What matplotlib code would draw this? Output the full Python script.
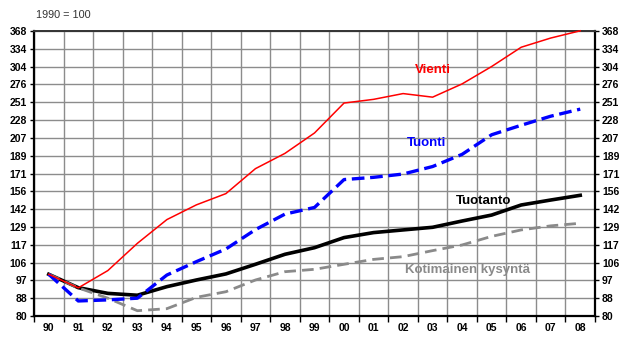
import numpy as np
import matplotlib.pyplot as plt

plt.rcParams['font.family'] = ['Liberation Sans', 'DejaVu Sans']

# Index series, 1990 = 100
years = ['90', '91', '92', '93', '94', '95', '96', '97', '98', '99',
         '00', '01', '02', '03', '04', '05', '06', '07', '08']
vienti = [100, 93, 102, 118, 134, 145, 154, 176, 191, 213,
          250, 255, 263, 258, 277, 304, 337, 354, 368]
tuonti = [100, 86.7, 87.2, 88, 99.6, 107, 114.5, 127, 138, 143,
          166, 168, 171, 178, 190, 211, 222, 233, 242]
tuotanto = [100, 93.1, 90.3, 89.4, 93.6, 97, 100.2, 105.5, 111.3, 115.3,
            121.7, 125, 126.8, 128.6, 133, 137.3, 144.9, 148.8, 152.6]
kysynta = [100, 93, 88, 82.3, 83.2, 88.4, 91.1, 97, 101.4, 102.7,
           105.5, 108.3, 109.9, 113.5, 117, 122.5, 126.8, 129.6, 131.4]

# y gridlines step by 10 % from 80
y_labels = ['80', '88', '97', '106', '117', '129', '142', '156', '171',
            '189', '207', '228', '251', '276', '304', '334', '368']
y_ticks = 80 * 1.1 ** np.arange(len(y_labels))

fig = plt.figure(figsize=(6.24, 3.47), dpi=100)
ax = fig.add_axes([34 / 624, 31 / 347, 561 / 624, 285 / 347])

x = np.arange(len(years))
ax.plot(x, tuotanto, color='black', lw=2.6, solid_joinstyle='round', zorder=3)
ax.plot(x, kysynta, color='#8a8a8a', lw=2.0, dashes=(4.2, 2.2), zorder=3)
ax.plot(x, tuonti, color='#0000ff', lw=2.4, dashes=(3.8, 1.7), zorder=4)
ax.plot(x, vienti, color='#ff0000', lw=1.1, zorder=5, clip_on=False)

ax.set_yscale('log')
ax.set_ylim(y_ticks[0], y_ticks[-1])
ax.set_xlim(-0.5, len(years) - 0.5)

ax.set_yticks(y_ticks)
ax.set_yticklabels(y_labels)
ax.yaxis.set_minor_locator(plt.NullLocator())
ax.set_xticks(x)
ax.set_xticklabels(years)
ax.set_xticks(np.arange(len(years) + 1) - 0.5, minor=True)

ax.grid(True, which='major', axis='y', color='#8c8c8c', lw=1.0)
ax.grid(True, which='minor', axis='x', color='#8c8c8c', lw=1.0)
ax.set_axisbelow(True)

ax.tick_params(axis='y', which='major', left=True, right=True,
               labelleft=True, labelright=True, length=3, width=1,
               pad=2, labelsize=7.5, direction='out')
ax.tick_params(axis='x', which='major', length=0, pad=5, labelsize=7.5)
ax.tick_params(axis='x', which='minor', length=4, width=1, direction='out')
for lab in ax.get_xticklabels() + ax.get_yticklabels():
    lab.set_fontweight('bold')
for t in ax.yaxis.get_major_ticks():
    t.label2.set_fontweight('bold')

for side in ['left', 'right', 'bottom']:
    ax.spines[side].set_linewidth(1.6)
    ax.spines[side].set_color('black')
ax.spines['top'].set_linewidth(1.4)
ax.spines['top'].set_color('#333333')

# series names
ax.text(13, 298, 'Vienti', color='#ff0000', fontsize=9.5, fontweight='bold',
        ha='center', va='center')
ax.text(12.8, 202, 'Tuonti', color='#0000ff', fontsize=9.5, fontweight='bold',
        ha='center', va='center')
ax.text(14.72, 148, 'Tuotanto', color='black', fontsize=9.5, fontweight='bold',
        ha='center', va='center')
ax.text(14.18, 102.3, 'Kotimainen kysyntä', color='#8a8a8a', fontsize=9.5,
        fontweight='bold', ha='center', va='center')

fig.text(36 / 624, 1 - 15 / 347, '1990 = 100', fontsize=7.8, color='#333333',
         ha='left', va='center')

fig.savefig('out.png', dpi=100)
